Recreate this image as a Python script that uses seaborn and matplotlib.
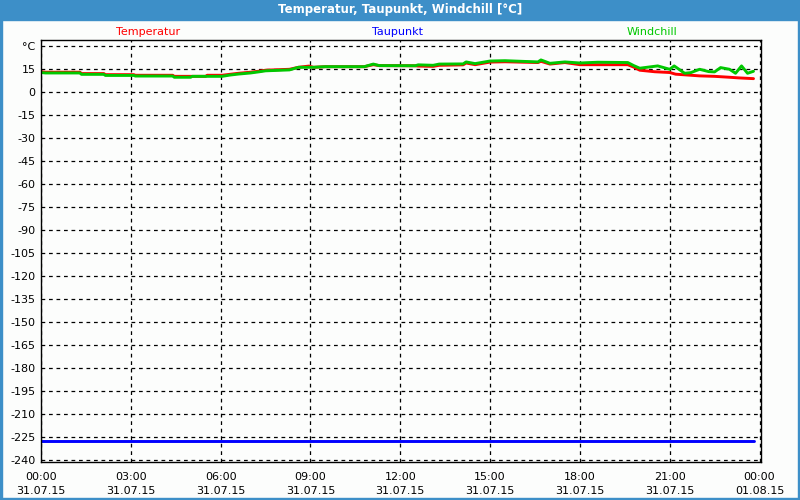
import matplotlib
matplotlib.use("Agg")
import matplotlib.pyplot as plt
import seaborn as sns
import pandas as pd

# ---- data ----
temp_hours = [0.0, 0.15, 1.3, 1.35, 2.1, 2.15, 3.1, 3.15, 4.4, 4.45, 5.5, 5.55, 6.05, 6.3, 6.6, 7.0,
              7.3, 7.5, 8.3, 8.6, 8.95, 9.1, 9.5, 10.8, 11.1, 11.3, 12.5, 12.6, 13.1, 13.3, 14.1,
              14.2, 14.5, 15.0, 15.5, 16.6, 16.7, 17.0, 17.5, 18.0, 19.6, 19.8, 20.0, 20.5, 21.0,
              21.2, 21.5, 22.0, 22.5, 23.0, 23.3, 23.8]
temp_values = [13.0, 12.7, 12.7, 11.8, 11.8, 11.1, 11.1, 10.7, 10.7, 10.0, 10.0, 10.7, 10.7, 11.3, 12.0, 12.7,
               13.4, 14.0, 14.6, 15.9, 16.7, 15.9, 16.3, 16.3, 17.6, 17.0, 16.9, 16.7, 16.5, 17.2, 17.5,
               18.7, 17.6, 19.3, 19.5, 19.0, 19.8, 18.0, 19.0, 17.6, 17.6, 16.0, 14.0, 13.0, 12.5,
               11.4, 11.0, 10.3, 10.0, 9.4, 9.0, 8.5]

wc_hours = [0.0, 0.15, 1.3, 1.35, 2.1, 2.15, 3.1, 3.15, 4.4, 4.45, 5.0, 5.05, 6.05, 6.3, 6.6, 7.0,
            7.3, 7.5, 8.3, 8.6, 9.1, 9.5, 10.8, 11.1, 11.3, 12.5, 12.6, 13.1, 13.3, 14.1,
            14.2, 14.5, 15.0, 15.5, 16.6, 16.7, 17.0, 17.5, 18.0, 18.6, 19.6, 19.8, 20.0, 20.6, 21.0,
            21.15, 21.5, 21.7, 22.0, 22.3, 22.5, 22.7, 23.0, 23.2, 23.4, 23.6, 23.8]
wc_values = [12.5, 12.2, 12.2, 11.3, 11.3, 10.6, 10.6, 10.2, 10.2, 9.4, 9.4, 10.0, 10.0, 10.8, 11.5, 12.2,
             13.0, 13.6, 14.2, 15.9, 15.9, 16.3, 16.3, 18.0, 17.0, 16.9, 17.5, 17.2, 18.0, 18.1,
             19.4, 18.3, 20.0, 20.2, 19.4, 20.7, 18.5, 19.4, 18.7, 19.2, 19.0, 17.0, 15.3, 16.8, 14.6,
             16.8, 12.0, 12.4, 14.6, 13.1, 12.9, 15.7, 14.6, 12.0, 16.8, 12.0, 13.3]

dew_hours = [0.0, 23.8]
dew_values = [-228.0, -228.0]

series_names = ["Temperatur", "Taupunkt", "Windchill"]
series_colors = ["#ff0000", "#0000ff", "#00c800"]

x_tick_hours = [0, 3, 6, 9, 12, 15, 18, 21, 24]
x_tick_labels = ["00:00\n31.07.15", "03:00\n31.07.15", "06:00\n31.07.15", "09:00\n31.07.15",
                 "12:00\n31.07.15", "15:00\n31.07.15", "18:00\n31.07.15", "21:00\n31.07.15",
                 "00:00\n01.08.15"]
y_ticks = list(range(-240, 31, 15))
y_tick_labels = [str(v) for v in range(-240, 16, 15)] + ["°C"]

title = "Temperatur, Taupunkt, Windchill [°C]"

# ---- frame ----
df = pd.concat([
    pd.DataFrame({"h": temp_hours, "v": temp_values, "s": "Temperatur"}),
    pd.DataFrame({"h": dew_hours, "v": dew_values, "s": "Taupunkt"}),
    pd.DataFrame({"h": wc_hours, "v": wc_values, "s": "Windchill"}),
])

sns.set_style("white")
plt.rcParams["font.family"] = ["DejaVu Sans"]

fig = plt.figure(figsize=(8, 5), dpi=100)
fig.patch.set_facecolor("#fcfdfc")
frame_blue = "#3d8fc8"

# title bar and borders
fig.add_artist(plt.Rectangle((0, 1 - 20 / 500), 1, 20 / 500, transform=fig.transFigure,
                             color=frame_blue, zorder=0))
fig.add_artist(plt.Rectangle((0, 0), 2 / 800, 1, transform=fig.transFigure, color=frame_blue))
fig.add_artist(plt.Rectangle((1 - 2 / 800, 0), 2 / 800, 1, transform=fig.transFigure, color=frame_blue))
fig.add_artist(plt.Rectangle((0, 0), 1, 2 / 500, transform=fig.transFigure, color=frame_blue))
fig.text(0.5, 1 - 10 / 500, title, color="white", fontsize=8.5, fontweight="bold",
         ha="center", va="center")

ax = fig.add_axes([41 / 800, 38 / 500, 720 / 800, 422 / 500])
ax.set_facecolor("#fcfdfc")

palette = dict(zip(series_names, series_colors))
sns.lineplot(data=df, x="h", y="v", hue="s", palette=palette, hue_order=series_names,
             linewidth=2.1, legend=False, ax=ax, estimator=None, sort=False)

ax.set_xlim(0, 24.05)
ax.set_ylim(-241.5, 33.7)
ax.set_xticks(x_tick_hours)
ax.set_xticklabels(x_tick_labels, fontsize=8, linespacing=1.5, color="black")
ax.set_xticks(range(0, 25), minor=True)
ax.set_yticks(y_ticks)
ax.set_yticklabels(y_tick_labels, fontsize=8, color="black")
ax.tick_params(axis="x", which="both", direction="out", length=3, width=0.8, color="black", pad=4)
ax.tick_params(axis="y", which="both", direction="out", length=0, pad=4)
ax.set_xlabel("")
ax.set_ylabel("")
ax.grid(True, which="major", color="black", linestyle=(0, (3, 3)), linewidth=0.9)
for sp in ax.spines.values():
    sp.set_visible(True)
    sp.set_color("black")
    sp.set_linewidth(1.0)

# legend labels above the plot
label_x = [148, 397, 652]
for name, col, lx in zip(series_names, series_colors, label_x):
    fig.text(lx / 800, 1 - 32 / 500, name, color=col, fontsize=8, ha="center", va="center")

fig.savefig("out.png", dpi=100, facecolor=fig.get_facecolor())
